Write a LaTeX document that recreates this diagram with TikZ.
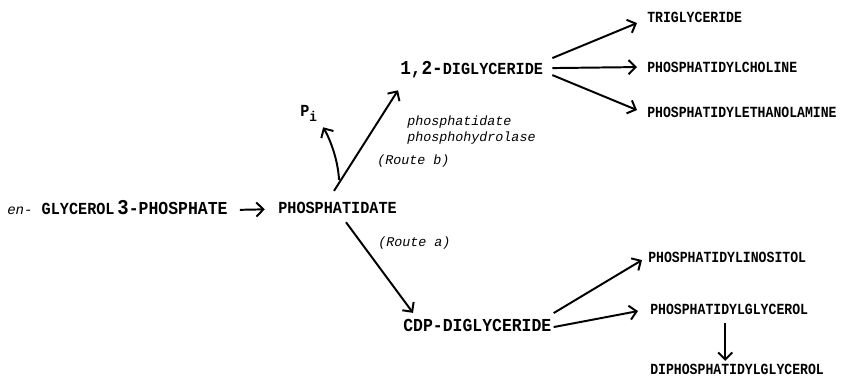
\documentclass[tikz,border=0pt]{standalone}
\usepackage{fontspec}
\usetikzlibrary{arrows.meta}
\newfontfamily\labfont[FakeStretch=0.9]{Liberation Mono}
\newfontfamily\prodfont[FakeStretch=0.85]{Liberation Mono}
\newfontfamily\typefont{Liberation Mono}
\tikzset{
  lab/.style={font=\labfont\bfseries\fontsize{12}{14}\selectfont, inner sep=0pt, anchor=base west, text height=7pt, text depth=0pt},
  prod/.style={lab, font=\prodfont\bfseries\fontsize{11}{13}\selectfont},
  note/.style={font=\typefont\itshape\fontsize{9.5}{11}\selectfont, inner sep=0pt, anchor=base west},
  arr/.style={line width=1.4pt, -{Straight Barb[length=5pt,width=10pt,line width=1.4pt]}}
}
\begin{document}
\begin{tikzpicture}[x=0.025cm, y=-0.025cm]
\useasboundingbox (0,0) rectangle (841,379);

% Main line
\node[lab] (g3p) at (7,215) {{\typefont\mdseries\itshape\fontsize{10}{11}\selectfont en-} GLYCEROL\,{\fontsize{15}{16}\selectfont 3}{\fontsize{13}{15}\selectfont -PHOSPHATE}};
\node[lab] (pa) at (278,214) {PHOSPHATIDATE};
\draw[arr, shorten <=0.3cm, shorten >=0.33cm] (g3p.east) -- (pa.west);

% Route b
\node[lab] (dg) at (400,75) {{\fontsize{14}{16}\selectfont 1,2-}DIGLYCERIDE};
\node[lab] (pi) at (300,117) {P\raisebox{-0.5ex}{\fontsize{10}{11}\selectfont i}};
\node[note] (enz1) at (407,126) {phosphatidate};
\node[note] (enz2) at (407,142) {phosphohydrolase};
\node[note] (rb) at (377,165) {(Route b)};
\draw[arr] ([shift={(-3.5,-13)}]pa.north) -- ([shift={(-2,15)}]dg.south west);
\draw[arr] ([shift={(1.5,-24)}]pa.north) .. controls +(-1,-20) and +(7,12) .. ([shift={(14.5,10)}]pi.south);

% Products of diglyceride
\node[prod] (tg) at (647,23) {TRIGLYCERIDE};
\node[prod] (pc) at (647,73) {PHOSPHATIDYLCHOLINE};
\node[prod] (pe) at (647,118) {PHOSPHATIDYLETHANOLAMINE};
\draw[arr] ([shift={(9,-12)}]dg.east) -- ([shift={(-10,5)}]tg.west);
\draw[arr] ([shift={(9,-2)}]dg.east) -- ([shift={(-10,-1)}]pc.west);
\draw[arr] ([shift={(9,5)}]dg.east) -- ([shift={(-10,-3)}]pe.west);

% Route a
\node[lab, font=\labfont\bfseries\fontsize{13}{15}\selectfont] (cdp) at (403,332) {CDP-DIGLYCERIDE};
\node[note] (ra) at (378,247) {(Route a)};
\draw[arr] ([shift={(8.5,8)}]pa.south) -- ([shift={(10,-9)}]cdp.north west);

% Products of CDP-diglyceride
\node[prod] (pin) at (648,263) {PHOSPHATIDYLINOSITOL};
\node[prod] (pg) at (650,315) {PHOSPHATIDYLGLYCEROL};
\node[prod] (dpg) at (650,374) {DIPHOSPHATIDYLGLYCEROL};
\draw[arr] ([shift={(2,-14)}]cdp.east) -- ([shift={(-6,2)}]pin.west);
\draw[arr] ([shift={(2,0)}]cdp.east) -- ([shift={(-12,1)}]pg.west);
\draw[arr] ([shift={(-4,8)}]pg.south) -- ([shift={(-4,-3)}]pg.south |- dpg.north);
\end{tikzpicture}
\end{document}
